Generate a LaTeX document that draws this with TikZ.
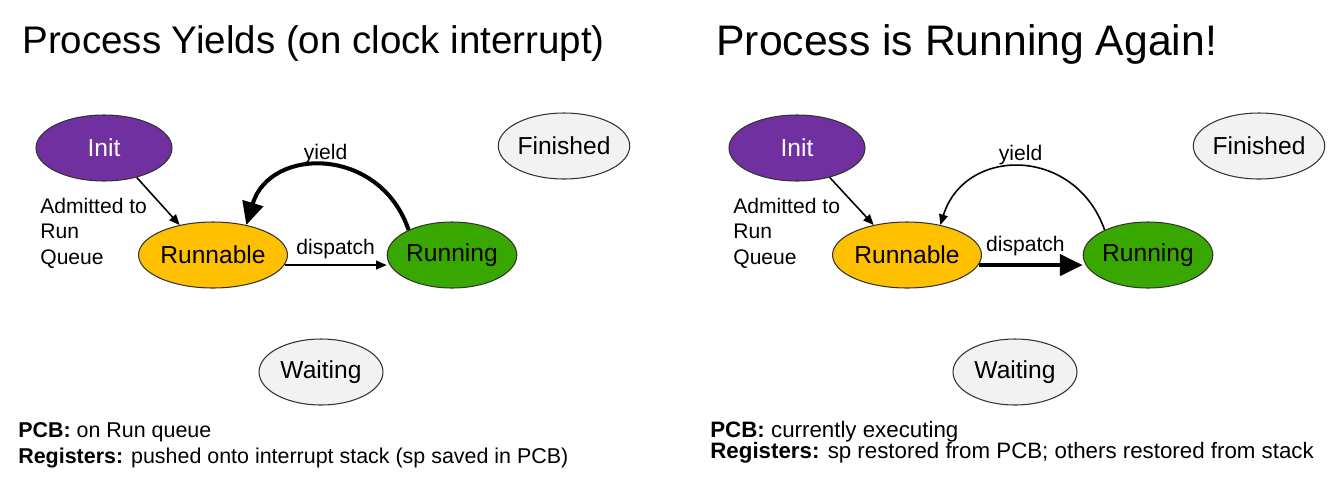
\documentclass[tikz,border=0pt]{standalone}
\usepackage{fontspec}
\setmainfont{Liberation Sans}
\usetikzlibrary{shapes.geometric,arrows.meta}
\definecolor{initpurple}{HTML}{7030A0}
\definecolor{runnableyellow}{HTML}{FFC000}
\definecolor{runninggreen}{HTML}{38A800}
\definecolor{idlegray}{HTML}{F2F2F2}

\begin{document}
\begin{tikzpicture}[x=0.02cm,y=-0.02cm,
  state/.style={ellipse,draw=black!80,line width=0.6pt,minimum width=2.56cm,
    minimum height=1.32cm,inner sep=0pt,font=\fontsize{14}{17}\selectfont},
  lbl/.style={font=\fontsize{12}{14.5}\selectfont},
  txt/.style={anchor=base west,inner sep=0pt},
  thinarr/.style={line width=0.9pt,-{Triangle[length=6pt,width=5pt]}},
  thickarr/.style={line width=2.3pt,-{Triangle[length=13pt,width=12pt]}}]
  \useasboundingbox (0,0) rectangle (1342,484);
  % left: process yields
  \node[txt,font=\fontsize{21.9}{26}\selectfont] (titleA) at (22,53) {Process Yields (on clock interrupt)};
  \node[state,fill=initpurple,text=white,minimum width=2.72cm] (initA) at (104,148) {Init};
  \node[state,fill=idlegray,minimum width=2.6cm] (finishedA) at (564,146) {Finished};
  \node[state,fill=runnableyellow,minimum width=2.52cm] (runnableA) at (213,255) {Runnable};
  \node[state,fill=runninggreen] (runningA) at (452,255) {Running};
  \node[state,fill=idlegray,minimum width=2.48cm] (waitingA) at (321,372) {Waiting};
  \node[lbl,anchor=west,align=left,inner sep=0pt] (admitA) at (40,233) {Admitted to\\Run\\Queue};
  \draw[thinarr] (initA.-42) -- (runnableA.138);
  \draw[thinarr] (runnableA.-8) -- (runnableA.-8 -| runningA.west) node[lbl,midway,above] {dispatch};
  \draw[thickarr] (runningA.150) .. controls (380,146) and (270,146) .. (runnableA.42)
    node[lbl,pos=0.5,above=-3pt] {yield};
  \node[txt,font=\fontsize{12.2}{15}\selectfont] (pcbA) at (18,437) {\textbf{PCB:} on Run queue};
  \node[txt,font=\fontsize{12.2}{15}\selectfont] (regA) at (18,463) {\textbf{Registers:} pushed onto interrupt stack (sp saved in PCB)};
  % right: running again
  \node[txt,font=\fontsize{24.3}{29}\selectfont] (titleB) at (716,55) {Process is Running Again!};
  \node[state,fill=initpurple,text=white,minimum width=2.72cm] (initB) at (797,148) {Init};
  \node[state,fill=idlegray,minimum width=2.6cm] (finishedB) at (1259,146) {Finished};
  \node[state,fill=runnableyellow,minimum width=2.56cm] (runnableB) at (907,255) {Runnable};
  \node[state,fill=runninggreen] (runningB) at (1148,255) {Running};
  \node[state,fill=idlegray,minimum width=2.48cm] (waitingB) at (1015,372) {Waiting};
  \node[lbl,anchor=west,align=left,inner sep=0pt] (admitB) at (733,233) {Admitted to\\Run\\Queue};
  \draw[thinarr] (initB.-42) -- (runnableB.138);
  \draw[thickarr] (runnableB.-8) -- (runnableB.-8 -| runningB.west) node[lbl,pos=0.45,above=1pt] {dispatch};
  \draw[thinarr] (runningB.150) .. controls (1075,146) and (965,146) .. (runnableB.42)
    node[lbl,pos=0.5,above=-3pt] {yield};
  \node[txt,font=\fontsize{12.7}{15}\selectfont] (pcbB) at (710,437) {\textbf{PCB:} currently executing};
  \node[txt,font=\fontsize{12.7}{15}\selectfont] (regB) at (710,458) {\textbf{Registers:} sp restored from PCB; others restored from stack};
\end{tikzpicture}
\end{document}
